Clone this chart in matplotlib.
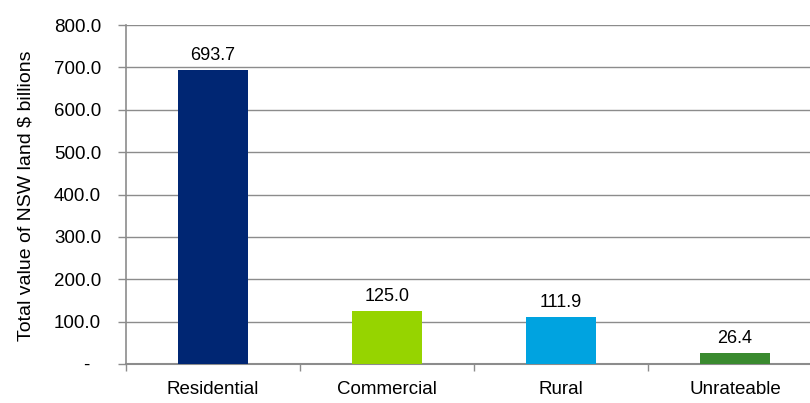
import matplotlib
matplotlib.use("Agg")
import matplotlib.pyplot as plt
from matplotlib.ticker import FixedLocator

categories = ["Residential", "Commercial", "Rural", "Unrateable"]
values = [693.7, 125.0, 111.9, 26.4]
colors = ["#002673", "#96D400", "#00A3E0", "#3A8A2F"]
yticks = [0, 100, 200, 300, 400, 500, 600, 700, 800]
ytick_labels = ["-  ", "100.0", "200.0", "300.0", "400.0", "500.0", "600.0", "700.0", "800.0"]

plt.rcParams['font.family'] = ['Liberation Sans', 'DejaVu Sans']

fig = plt.figure(figsize=(8.1, 4.03), dpi=100)
ax = fig.add_axes([126/810, (403-364)/403, 696/810, (364-25)/403])

x = list(range(len(categories)))
bars = ax.bar(x, values, width=0.4, color=colors, zorder=3)
for xi, v in zip(x, values):
    ax.text(xi, v + 14, f"{v:.1f}", ha="center", va="bottom", fontsize=13, color="#000000")

ax.set_xlim(-0.5, len(categories) - 0.5)
ax.set_ylim(0, 800)
ax.set_yticks(yticks)
ax.set_yticklabels(ytick_labels, fontsize=13.5)
ax.yaxis.grid(True, color="#8c8c8c", linewidth=1.0, zorder=0)
ax.set_axisbelow(True)

ax.set_xticks(x)
ax.set_xticklabels(categories, fontsize=13.5)
ax.xaxis.set_minor_locator(FixedLocator([i - 0.5 for i in range(len(categories) + 1)]))
ax.tick_params(axis="x", which="major", length=0, pad=12)
ax.tick_params(axis="x", which="minor", length=5, width=1, color="#8c8c8c", direction="out")
ax.tick_params(axis="y", which="major", length=6, width=1, color="#8c8c8c", direction="out", pad=12)

for s in ["top", "right"]:
    ax.spines[s].set_visible(False)
ax.spines["left"].set_color("#8c8c8c")
ax.spines["left"].set_linewidth(1.2)
ax.spines["bottom"].set_color("#8c8c8c")
ax.spines["bottom"].set_linewidth(1.5)

ax.set_ylabel("Total value of NSW land $ billions", fontsize=14)
ax.yaxis.set_label_coords((35 - 126) / 696, (364 - 196) / 339)

fig.savefig("out.png", dpi=100)
